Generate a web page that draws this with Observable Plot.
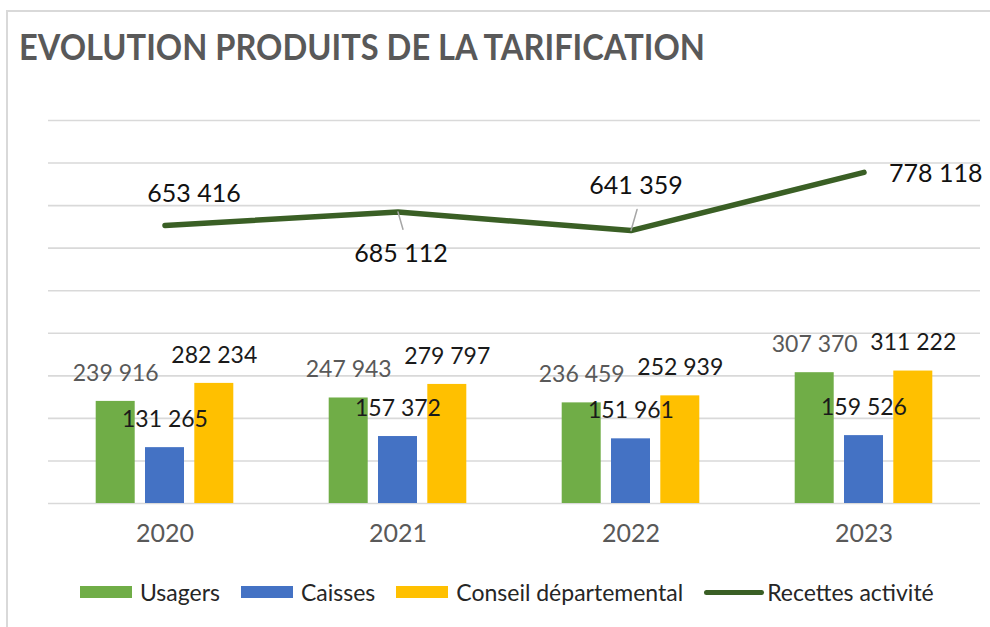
<!DOCTYPE html>
<html>
<head>
<meta charset="utf-8">
<script src="https://cdn.jsdelivr.net/npm/d3@7"></script>
<script src="https://cdn.jsdelivr.net/npm/@observablehq/plot@0.6"></script>
<style>
  body { margin: 0; background: #fff; font-family: Lato, "Open Sans", sans-serif; }
  #page { position: relative; width: 990px; height: 627px; overflow: hidden; background: #fff; }
  #frame { position: absolute; left: 6px; top: 10px; width: 1100px; height: 800px;
           border-left: 2px solid #d9d9d9; border-top: 2px solid #d9d9d9; }
  #title { position: absolute; left: 19px; top: 28px; font-size: 36px; line-height: 36px;
           font-weight: 700; color: #595959; white-space: nowrap; transform-origin: 0 0; }
  #chart { position: absolute; left: 0; top: 100px; }
  #legend { position: absolute; left: 80px; top: 578px; height: 28px; display: flex; align-items: center;
            font-size: 23px; color: #262626; white-space: nowrap; }
  .item { display: flex; align-items: center; margin-right: 21px; }
  .sw { width: 52px; height: 12px; margin-right: 8px; }
  .ln { width: 60px; height: 5px; border-radius: 3px; margin-right: 3px; }
</style>
</head>
<body>
<div id="page">
  <div id="frame"></div>
  <div id="title">EVOLUTION PRODUITS DE LA TARIFICATION</div>
  <div id="chart"></div>
  <div id="legend"></div>
</div>
<script>
const years = ["2020", "2021", "2022", "2023"];
const usagers = [239916, 247943, 236459, 307370];
const caisses = [131265, 157372, 151961, 159526];
const conseil = [282234, 279797, 252939, 311222];
const recettes = [653416, 685112, 641359, 778118];
const seriesNames = ["Usagers", "Caisses", "Conseil départemental", "Recettes activité"];
const yTicks = [0, 100000, 200000, 300000, 400000, 500000, 600000, 700000, 800000, 900000];

const table = years.map((year, i) => ({
  year, usagers: usagers[i], caisses: caisses[i], conseil: conseil[i], recettes: recettes[i]
}));

const fmt = v => d3.format(",")(v).replace(/,/g, " ");

const barSpec = [
  {key: "usagers", fill: "#70AD47", label: "#595959", dx: -49.3},
  {key: "caisses", fill: "#4472C4", label: "#1a1a1a", dx: 0},
  {key: "conseil", fill: "#FFC000", label: "#1a1a1a", dx: 49.3}
];
const lineColor = "#3a5f25";
const leaderShape = {draw(context, l) { context.moveTo(0, 0); context.lineTo(0, -l); }};
const byYear = y => table.filter(d => d.year === y);

const lineLabel = (year, opts) => Plot.text(byYear(year), {
  x: "year", y: "recettes", text: d => fmt(d.recettes),
  fontSize: 25, fill: "#111", ...opts
});

const plot = Plot.plot({
  width: 990,
  height: 460,
  marginTop: 20,
  marginBottom: 57,
  marginLeft: 48,
  marginRight: 10,
  style: {fontFamily: "Lato, 'Open Sans', sans-serif", background: "transparent", overflow: "visible"},
  x: {type: "band", domain: years, padding: 0, axis: null},
  y: {domain: [0, 900000], axis: null},
  marks: [
    Plot.ruleY(yTicks, {stroke: "#d9d9d9", strokeWidth: 1.6}),
    ...barSpec.map(s => Plot.barY(table, {
      x: "year", y: s.key, fill: s.fill, insetLeft: 97, insetRight: 97, dx: s.dx
    })),
    Plot.line(table, {x: "year", y: "recettes", stroke: lineColor, strokeWidth: 5.5,
      strokeLinecap: "round", strokeLinejoin: "round"}),
    Plot.vector(byYear("2021"), {x: "year", y: "recettes", length: 18, rotate: 164, anchor: "start",
      stroke: "#a6a6a6", strokeWidth: 1.5, shape: leaderShape}),
    Plot.vector(byYear("2022"), {x: "year", y: "recettes", length: 22, rotate: 16, anchor: "start",
      stroke: "#a6a6a6", strokeWidth: 1.5, shape: leaderShape}),
    ...barSpec.map(s => Plot.text(table, {
      x: "year", y: s.key, text: d => fmt(d[s.key]), dx: s.dx, dy: -28,
      fill: s.label, fontSize: 23
    })),
    lineLabel("2020", {dx: 29, dy: -31}),
    lineLabel("2021", {dx: 3, dy: 42}),
    lineLabel("2022", {dx: 5, dy: -45}),
    lineLabel("2023", {dx: 25, dy: 2, textAnchor: "start"}),
    Plot.text(years, {x: d => d, frameAnchor: "bottom", dy: 38, text: d => d,
      fill: "#595959", fontSize: 25})
  ]
});
document.getElementById("chart").appendChild(plot);

// legend
const legendColors = ["#70AD47", "#4472C4", "#FFC000", lineColor];
const legend = document.getElementById("legend");
seriesNames.forEach((name, i) => {
  const item = document.createElement("div");
  item.className = "item";
  const sw = document.createElement("div");
  sw.className = i === 3 ? "ln" : "sw";
  sw.style.background = legendColors[i];
  const tx = document.createElement("span");
  tx.textContent = name;
  item.appendChild(sw);
  item.appendChild(tx);
  legend.appendChild(item);
});

// fit title width
const title = document.getElementById("title");
const tw = title.getBoundingClientRect().width;
title.style.transform = `scaleX(${686 / tw})`;
</script>
</body>
</html>
